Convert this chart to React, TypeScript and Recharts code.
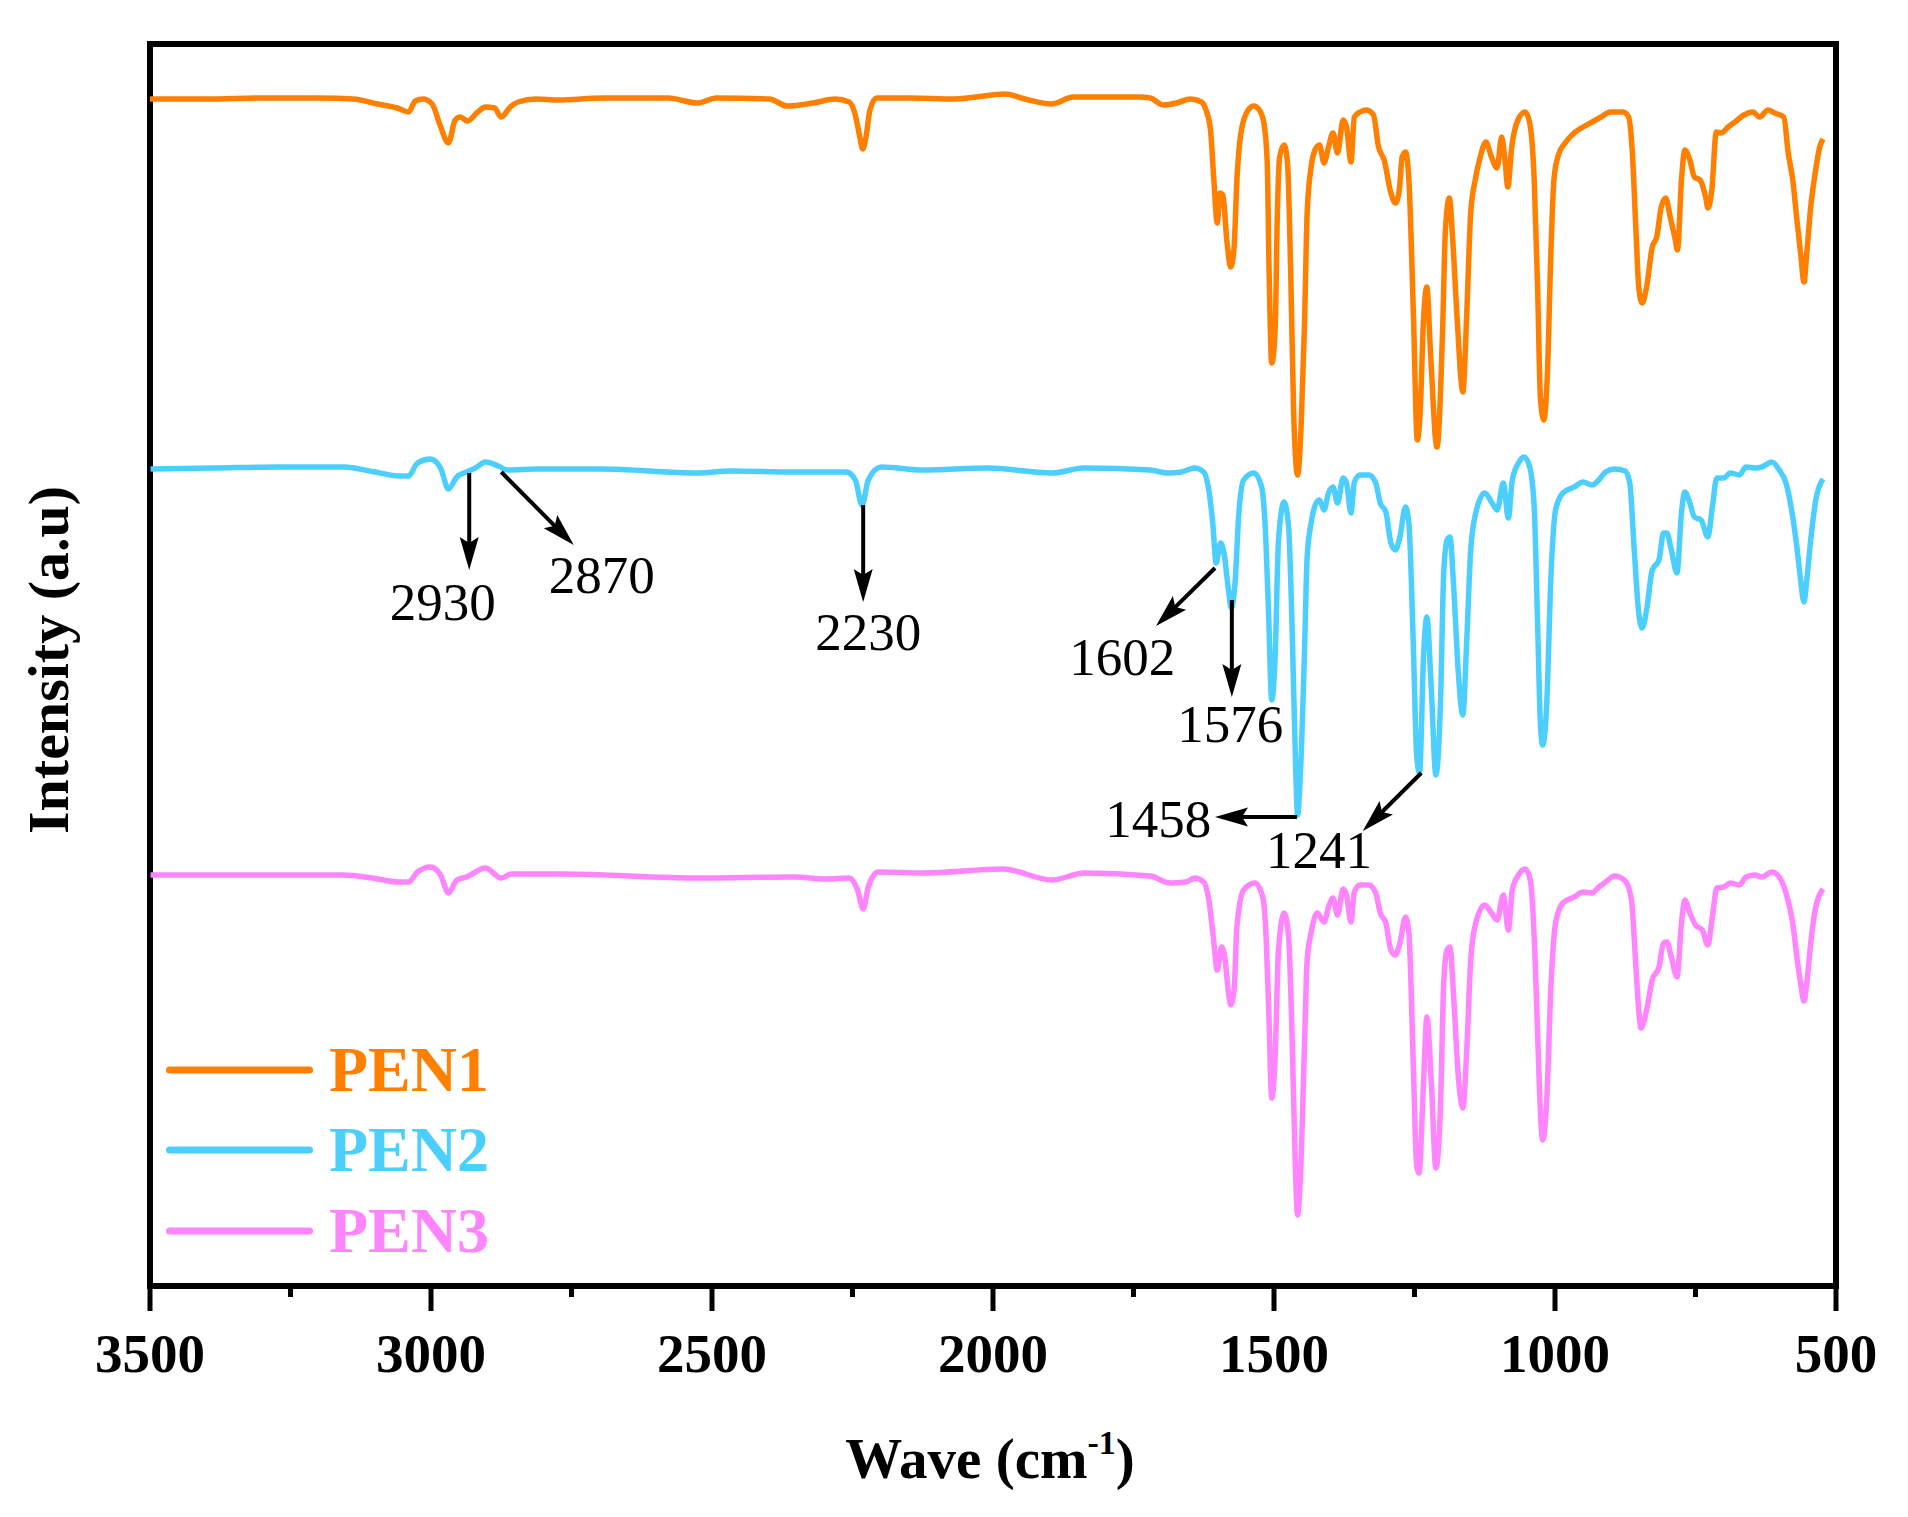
import React from 'react';
import {
  LineChart,
  Line,
  XAxis,
  YAxis,
  ReferenceArea,
  ReferenceLine,
  ReferenceDot,
  Legend,
  Label,
} from 'recharts';

const FONT = "'Times New Roman', 'Liberation Serif', serif";

// x axis ticks (wavenumber, cm-1)
const WAVE_TICKS = [3500, 3250, 3000, 2750, 2500, 2250, 2000, 1750, 1500, 1250, 1000, 750, 500];
const MAJOR_TICKS = [3500, 3000, 2500, 2000, 1500, 1000, 500];

const SERIES_NAMES = ['PEN1', 'PEN2', 'PEN3'];
const SERIES_COLORS = ['#FF8000', '#4CCFFF', '#FF85FF'];

// [wavenumber, intensity (a.u.)]
const PEN1: [number, number][] = [
  [3500, 118.7], [3400, 118.7], [3300, 118.8], [3200, 118.8], [3138, 118.7], [3095, 118.2], [3060, 117.8],
  [3040, 117.4], [3028, 118.5], [3014, 118.7], [2998, 118.2], [2984, 116.1], [2969, 114.3], [2957, 116.6],
  [2948, 116.9], [2935, 116.5], [2917, 117.4], [2903, 117.9], [2887, 117.8], [2875, 116.9], [2859, 117.9],
  [2845, 118.4], [2813, 118.7], [2773, 118.6], [2695, 118.8], [2578, 118.8], [2526, 118.3], [2492, 118.8],
  [2398, 118.7], [2366, 118.0], [2320, 118.3], [2281, 118.7], [2256, 118.4], [2246, 117.3], [2237, 114.9],
  [2232, 113.7], [2226, 114.9], [2219, 117.6], [2207, 118.8], [2147, 118.8], [2069, 118.7], [1978, 119.2],
  [1943, 118.7], [1896, 118.2], [1857, 118.9], [1795, 118.9], [1740, 118.9], [1720, 118.8], [1697, 118.1],
  [1673, 118.3], [1649, 118.7], [1629, 118.4], [1621, 117.6], [1613, 115.6], [1607, 110.6], [1601, 106.3],
  [1596, 109.3], [1591, 109.1], [1584, 104.6], [1577, 101.9], [1571, 103.9], [1566, 110.6], [1558, 115.6],
  [1546, 117.6], [1536, 118.0], [1526, 117.6], [1518, 116.3], [1512, 112.3], [1509, 102.3], [1504, 92.3],
  [1498, 95.6], [1494, 107.3], [1490, 112.9], [1482, 114.1], [1476, 112.3], [1470, 100.6], [1465, 87.3],
  [1458, 81.1], [1452, 85.6], [1446, 95.6], [1441, 107.3], [1434, 111.9], [1427, 113.6], [1419, 114.1],
  [1411, 112.3], [1403, 113.9], [1395, 115.3], [1387, 113.3], [1377, 116.6], [1371, 115.9], [1363, 112.4],
  [1357, 116.9], [1347, 117.4], [1335, 117.6], [1323, 117.1], [1314, 113.9], [1304, 112.6], [1292, 109.3],
  [1284, 108.3], [1277, 109.6], [1272, 112.9], [1266, 113.4], [1260, 110.6], [1252, 97.3], [1245, 84.6],
  [1240, 87.3], [1234, 96.6], [1228, 99.9], [1222, 93.9], [1210, 83.9], [1200, 95.6], [1195, 105.6],
  [1188, 108.8], [1182, 104.6], [1174, 96.6], [1164, 89.4], [1157, 97.3], [1150, 107.3], [1142, 110.6],
  [1133, 112.9], [1123, 114.4], [1113, 112.9], [1103, 111.8], [1095, 114.9], [1089, 112.6], [1084, 109.9],
  [1077, 113.9], [1066, 116.6], [1053, 117.4], [1045, 116.3], [1037, 110.6], [1031, 99.9], [1026, 88.9],
  [1020, 86.6], [1014, 90.6], [1007, 103.9], [1002, 110.6], [994, 113.1], [982, 114.3], [966, 115.3],
  [950, 115.9], [934, 116.4], [918, 116.9], [902, 117.4], [879, 117.4], [869, 116.9], [863, 113.9],
  [856, 105.6], [851, 99.9], [845, 98.3], [837, 99.9], [827, 103.9], [819, 104.9], [811, 107.9],
  [803, 108.8], [795, 106.9], [787, 104.9], [782, 103.6], [775, 110.6], [769, 113.6], [760, 112.6],
  [752, 110.9], [742, 110.6], [732, 108.9], [728, 107.8], [721, 109.6], [713, 115.4], [704, 115.3],
  [692, 115.9], [680, 116.4], [664, 117.1], [648, 117.4], [636, 116.9], [621, 117.6], [609, 117.3],
  [593, 116.9], [585, 113.3], [577, 110.6], [569, 106.3], [563, 103.3], [557, 100.4], [552, 103.3],
  [545, 107.9], [537, 111.3], [529, 113.9], [523, 114.7],
];

const PEN2: [number, number][] = [
  [3499, 81.7], [3385, 81.8], [3270, 81.9], [3156, 81.9], [3099, 81.4], [3058, 81.0], [3040, 81.0],
  [3024, 82.3], [3001, 82.7], [2983, 81.8], [2969, 79.7], [2954, 80.9], [2937, 81.4], [2921, 81.8],
  [2903, 82.4], [2880, 82.0], [2864, 81.6], [2812, 81.7], [2697, 81.7], [2526, 81.3], [2467, 81.5],
  [2354, 81.4], [2261, 81.4], [2245, 80.6], [2233, 78.1], [2222, 80.6], [2199, 81.9], [2125, 81.6],
  [2010, 81.8], [1895, 81.3], [1838, 81.8], [1720, 81.6], [1689, 81.3], [1665, 81.4], [1641, 81.8],
  [1625, 81.4], [1617, 79.9], [1609, 76.3], [1603, 72.3], [1595, 74.3], [1589, 73.3], [1581, 69.6],
  [1576, 67.8], [1569, 70.6], [1563, 76.9], [1554, 80.6], [1536, 81.3], [1522, 79.9], [1516, 76.3],
  [1510, 67.9], [1504, 58.6], [1498, 62.9], [1492, 74.6], [1482, 78.4], [1474, 75.9], [1468, 66.3],
  [1462, 52.9], [1458, 47.1], [1453, 51.3], [1446, 62.9], [1441, 72.9], [1434, 76.3], [1425, 78.3],
  [1419, 78.6], [1411, 77.6], [1403, 79.3], [1395, 79.9], [1387, 78.3], [1377, 80.8], [1371, 80.3],
  [1363, 77.3], [1357, 80.4], [1347, 81.1], [1331, 81.1], [1319, 80.3], [1311, 78.3], [1301, 77.4],
  [1292, 74.3], [1284, 73.6], [1276, 74.9], [1266, 77.9], [1260, 76.3], [1252, 63.9], [1246, 52.9],
  [1241, 51.3], [1234, 62.9], [1228, 66.9], [1220, 59.6], [1212, 51.1], [1204, 57.9], [1198, 71.3],
  [1192, 74.6], [1187, 74.9], [1180, 69.6], [1172, 61.3], [1164, 57.1], [1157, 64.6], [1150, 73.6],
  [1141, 77.3], [1125, 79.3], [1113, 78.4], [1103, 77.6], [1092, 80.3], [1083, 76.8], [1076, 80.6],
  [1065, 82.3], [1055, 82.9], [1045, 81.9], [1037, 77.9], [1031, 66.3], [1026, 56.3], [1022, 54.1],
  [1015, 57.9], [1007, 71.3], [999, 77.6], [986, 79.3], [966, 79.9], [950, 80.4], [934, 80.1],
  [922, 80.6], [910, 81.4], [894, 81.7], [875, 81.5], [867, 80.3], [859, 73.6], [851, 67.3],
  [845, 65.8], [837, 67.6], [827, 71.6], [815, 72.6], [807, 75.3], [801, 75.3], [793, 73.6],
  [783, 71.3], [775, 77.3], [769, 79.4], [760, 78.3], [752, 76.9], [740, 76.6], [728, 74.9],
  [720, 77.9], [712, 80.8], [700, 80.8], [688, 81.3], [672, 81.1], [660, 81.9], [644, 81.8],
  [632, 81.9], [614, 82.4], [601, 81.6], [589, 80.3], [577, 76.9], [569, 73.6], [563, 70.6],
  [557, 68.4], [552, 70.6], [545, 74.6], [536, 78.6], [523, 80.7],
];

const PEN3: [number, number][] = [
  [3499, 41.1], [3156, 41.1], [3104, 40.8], [3058, 40.4], [3040, 40.4], [3024, 41.4], [3001, 41.9],
  [2983, 41.1], [2969, 39.3], [2954, 40.6], [2937, 40.9], [2903, 41.8], [2875, 40.8], [2857, 41.2],
  [2766, 41.2], [2526, 40.8], [2354, 40.9], [2297, 40.7], [2256, 40.8], [2241, 39.6], [2231, 37.7],
  [2222, 39.9], [2204, 41.4], [2124, 41.3], [1982, 41.7], [1895, 40.6], [1838, 41.3], [1720, 41.0],
  [1685, 40.3], [1657, 40.4], [1641, 40.8], [1625, 40.4], [1616, 38.6], [1608, 34.9], [1601, 31.6],
  [1593, 33.9], [1587, 32.6], [1581, 29.3], [1577, 28.1], [1571, 29.6], [1566, 35.9], [1554, 39.6],
  [1534, 40.3], [1520, 38.9], [1514, 34.9], [1509, 26.9], [1504, 18.8], [1498, 22.9], [1492, 33.6],
  [1482, 37.3], [1474, 34.9], [1468, 25.3], [1462, 11.9], [1458, 7.1], [1453, 10.9], [1446, 23.6],
  [1441, 32.6], [1434, 35.3], [1423, 37.3], [1411, 36.4], [1403, 37.9], [1395, 38.8], [1387, 37.1],
  [1377, 39.7], [1371, 39.1], [1363, 36.4], [1357, 39.4], [1347, 40.1], [1331, 40.1], [1319, 39.3],
  [1311, 37.3], [1301, 36.3], [1292, 33.6], [1284, 33.1], [1276, 34.3], [1266, 36.9], [1260, 35.3],
  [1252, 21.9], [1246, 11.9], [1242, 11.3], [1234, 20.3], [1228, 26.9], [1220, 20.3], [1212, 11.8],
  [1204, 17.6], [1198, 30.3], [1192, 33.6], [1187, 33.9], [1180, 28.6], [1172, 20.9], [1164, 17.8],
  [1157, 23.6], [1150, 32.6], [1141, 36.3], [1125, 38.1], [1113, 37.3], [1103, 36.6], [1092, 39.1],
  [1083, 35.6], [1076, 39.6], [1065, 41.1], [1053, 41.7], [1044, 40.6], [1036, 33.6], [1030, 23.6],
  [1025, 16.3], [1022, 14.6], [1015, 18.3], [1007, 30.3], [999, 36.3], [986, 38.3], [966, 38.9],
  [950, 39.4], [934, 39.3], [922, 39.9], [910, 40.4], [894, 41.0], [875, 40.5], [864, 38.6],
  [856, 31.9], [851, 27.6], [847, 25.8], [837, 27.6], [827, 30.6], [815, 31.9], [807, 34.3],
  [801, 34.4], [793, 32.9], [783, 30.9], [775, 36.3], [769, 38.6], [760, 37.3], [750, 36.1],
  [738, 35.6], [728, 34.1], [720, 36.9], [712, 39.8], [700, 39.9], [688, 40.3], [672, 40.1],
  [660, 40.9], [644, 41.1], [632, 40.9], [614, 41.4], [601, 40.9], [589, 39.3], [577, 36.3],
  [569, 32.6], [563, 30.3], [557, 28.5], [552, 30.3], [545, 34.3], [536, 37.9], [523, 39.7],
];

// peak annotations
const ANNOTATION_LABELS = ['2930', '2870', '2230', '1602', '1576', '1458', '1241'];
const ARROW_FROM: [number, number][] = [
  [2932, 81.3], [2875, 81.4], [2231, 78.1], [1605, 71.8], [1575, 68.6], [1459, 46.9], [1238, 51.3],
];
const ARROW_TO: [number, number][] = [
  [2932, 71.6], [2746, 74.1], [2231, 68.4], [1710, 66.0], [1575, 58.9], [1605, 46.9], [1342, 45.5],
];
const LABEL_AT: [number, number][] = [
  [2979, 66.6], [2696, 69.3], [2222, 63.6], [1770, 61.1], [1578, 54.4], [1706, 44.9], [1420, 41.8],
];

const Y_DOMAIN: [number, number] = [0, 124.2];
const X_DOMAIN: [number, number] = [500, 3500];

const toRows = (pts: [number, number][]) => pts.map(([w, v]) => ({ w, v }));
const SERIES_DATA = [PEN1, PEN2, PEN3].map(toRows);

function XTick(props: any) {
  const { x, y, payload } = props;
  const major = MAJOR_TICKS.includes(payload.value);
  return (
    <g>
      <line x1={x} y1={y} x2={x} y2={y + (major ? 25 : 11)} stroke="#000" strokeWidth={5} />
      {major && (
        <text
          x={x}
          y={y + 86}
          textAnchor="middle"
          fontFamily={FONT}
          fontWeight="bold"
          fontSize={55}
          fill="#000"
        >
          {payload.value}
        </text>
      )}
    </g>
  );
}

function arrowShape(props: any) {
  const { x1, y1, x2, y2 } = props;
  if (x1 == null || x2 == null) return <g />;
  const dx = x2 - x1;
  const dy = y2 - y1;
  const len = Math.hypot(dx, dy) || 1;
  const ux = dx / len;
  const uy = dy / len;
  const hl = 33;
  const hw = 9.5;
  const bx = x2 - ux * hl;
  const by = y2 - uy * hl;
  const nx = bx + ux * 6;
  const ny = by + uy * 6;
  const pts = `${x2},${y2} ${bx - uy * hw},${by + ux * hw} ${nx},${ny} ${bx + uy * hw},${by - ux * hw}`;
  return (
    <g>
      <line x1={x1} y1={y1} x2={nx} y2={ny} stroke="#000" strokeWidth={4} />
      <polygon points={pts} fill="#000" />
    </g>
  );
}

const labelShape = (text: string) => (props: any) => (
  <text x={props.cx} y={props.cy} textAnchor="middle" fontFamily={FONT} fontSize={53} fill="#000">
    {text}
  </text>
);

function LegendContent(props: any) {
  const payload =
    props.payload && props.payload.length
      ? props.payload
      : SERIES_NAMES.map((n, i) => ({ value: n, color: SERIES_COLORS[i] }));
  const rows = [40, 120, 201];
  return (
    <svg width={340} height={250} style={{ overflow: 'visible' }}>
      {payload.map((p: any, i: number) => (
        <g key={p.value}>
          <line
            x1={9.5}
            y1={rows[i]}
            x2={149.5}
            y2={rows[i]}
            stroke={p.color}
            strokeWidth={7}
            strokeLinecap="round"
          />
          <text
            x={169}
            y={rows[i] + 21}
            fontFamily={FONT}
            fontWeight="bold"
            fontSize={64}
            fill={p.color}
          >
            {p.value}
          </text>
        </g>
      ))}
    </svg>
  );
}

function XTitle(props: any) {
  const vb = props.viewBox || { x: 150, y: 1286, width: 1686 };
  const cx = vb.x + vb.width / 2 - 3;
  const y = vb.y + 192;
  return (
    <text x={cx} y={y} textAnchor="middle" fontFamily={FONT} fontWeight="bold" fontSize={57} fill="#000">
      <tspan>Wave (cm</tspan>
      <tspan dy={-24} fontSize={34}>-1</tspan>
      <tspan dy={24}>)</tspan>
    </text>
  );
}

function YTitle(props: any) {
  const vb = props.viewBox || { x: 0, y: 44, height: 1242 };
  const cy = vb.y + vb.height / 2 - 5;
  const x = 68;
  return (
    <text
      x={x}
      y={cy}
      transform={`rotate(-90 ${x} ${cy})`}
      textAnchor="middle"
      fontFamily={FONT}
      fontWeight="bold"
      fontSize={58}
      fill="#000"
    >
      Intensity (a.u)
    </text>
  );
}

export default function App() {
  return (
    <div style={{ position: 'absolute', left: 0, top: 0, width: 1908, height: 1517, background: '#fff' }}>
      <LineChart width={1908} height={1517} margin={{ top: 44, right: 72, bottom: 0, left: 0 }}>
        <XAxis
          type="number"
          dataKey="w"
          domain={X_DOMAIN}
          reversed
          allowDataOverflow
          ticks={WAVE_TICKS}
          interval={0}
          tickSize={0}
          tickMargin={0}
          axisLine={false}
          tickLine={false}
          height={231}
          tick={<XTick />}
        >
          <Label content={<XTitle />} />
        </XAxis>
        <YAxis
          type="number"
          dataKey="v"
          domain={Y_DOMAIN}
          allowDataOverflow
          width={150}
          tick={false}
          axisLine={false}
          tickLine={false}
        >
          <Label content={<YTitle />} />
        </YAxis>
        <ReferenceArea
          x1={X_DOMAIN[1]}
          x2={X_DOMAIN[0]}
          y1={Y_DOMAIN[0]}
          y2={Y_DOMAIN[1]}
          fill="none"
          fillOpacity={0}
          stroke="#000"
          strokeWidth={6}
        />
        {SERIES_DATA.map((rows, i) => (
          <Line
            key={SERIES_NAMES[i]}
            data={rows}
            dataKey="v"
            name={SERIES_NAMES[i]}
            type="monotoneX"
            stroke={SERIES_COLORS[i]}
            strokeWidth={5.5}
            dot={false}
            activeDot={false}
            isAnimationActive={false}
          />
        ))}
        {ANNOTATION_LABELS.map((lab, i) => (
          <ReferenceLine
            key={'arrow' + lab}
            segment={[
              { x: ARROW_FROM[i][0], y: ARROW_FROM[i][1] },
              { x: ARROW_TO[i][0], y: ARROW_TO[i][1] },
            ]}
            stroke="#000"
            shape={arrowShape}
          />
        ))}
        {ANNOTATION_LABELS.map((lab, i) => (
          <ReferenceDot
            key={'label' + lab}
            x={LABEL_AT[i][0]}
            y={LABEL_AT[i][1]}
            r={0}
            shape={labelShape(lab)}
          />
        ))}
        <Legend
          layout="vertical"
          align="center"
          verticalAlign="middle"
          wrapperStyle={{ position: 'absolute', left: 160, top: 1030, width: 340, height: 250 }}
          content={<LegendContent />}
        />
      </LineChart>
    </div>
  );
}
